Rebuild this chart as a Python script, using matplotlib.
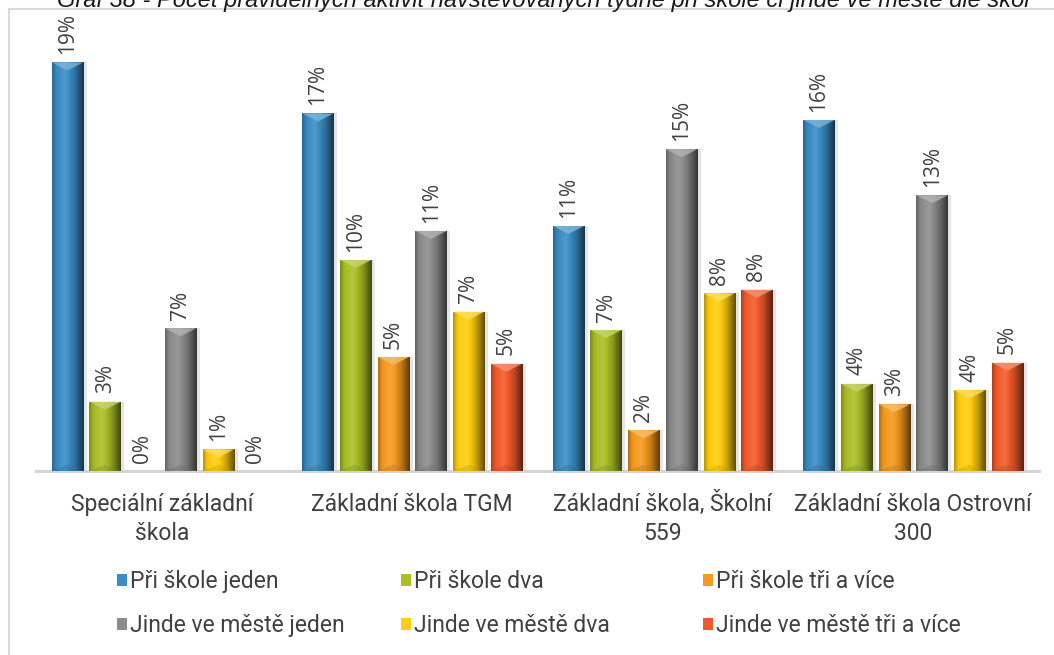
import numpy as np
import matplotlib
matplotlib.use('Agg')
import matplotlib.pyplot as plt
import matplotlib.transforms as mtransforms
from matplotlib.patches import Rectangle, Polygon
from matplotlib.colors import to_rgb

# Chart data (percent)
categories = ['Speciální základní\nškola', 'Základní škola TGM',
              'Základní škola, Školní\n559', 'Základní škola Ostrovní\n300']
series = ['Při škole jeden', 'Při škole dva', 'Při škole tři a více',
          'Jinde ve městě jeden', 'Jinde ve městě dva', 'Jinde ve městě tři a více']
pri_skole_jeden = [18.97, 16.6, 11.38, 16.3]
pri_skole_dva = [3.22, 9.8, 6.55, 4.05]
pri_skole_tri = [0.0, 5.3, 1.9, 3.1]
jinde_jeden = [6.63, 11.15, 14.94, 12.8]
jinde_dva = [1.0, 7.4, 8.25, 3.75]
jinde_tri = [0.0, 4.98, 8.42, 5.03]
values = [pri_skole_jeden, pri_skole_dva, pri_skole_tri, jinde_jeden, jinde_dva, jinde_tri]
colors = ['#3A8DC5', '#A9BF26', '#F59A1F', '#8C8C8C', '#FFCD0F', '#F25A2A']

title = 'Graf 38 - Počet pravidelných aktivit navštěvovaných týdně při škole či jinde ve městě dle škol'

txt_font = 'Roboto'
txt_color = '#404040'


def shade(c, f):
    c = np.array(to_rgb(c))
    if f >= 1:
        return np.clip(c + (1 - c) * (f - 1), 0, 1)
    return c * f


def gradient(c, n=64):
    t = np.linspace(0, 1, n)
    kp = [0.0, 0.12, 0.4, 0.72, 1.0]
    fv = [0.72, 0.95, 1.12, 0.8, 0.38]
    f = np.interp(t, kp, fv)
    rgb = np.array([shade(c, v) for v in f])
    return np.concatenate([rgb, np.ones((n, 1))], axis=1)[None, :, :]


fig = plt.figure(figsize=(10.54, 6.55), dpi=100)
ax = fig.add_axes([0.0346, 0.2809, 0.9507, 0.6577])

x = np.arange(len(categories))
width = 0.1257
step = 0.1505
px_per_unit = 21.54
bevel = 8 / px_per_unit

for i, (vals, col) in enumerate(zip(values, colors)):
    xpos = x + (i - 2.5) * step
    # soft shadow
    ax.bar(xpos + 0.014, vals, width, color='#000000', alpha=0.10, zorder=1, linewidth=0)
    bars = ax.bar(xpos, vals, width, color=col, zorder=2, linewidth=0, label=series[i])
    for b, v in zip(bars, vals):
        if v <= 0:
            continue
        x0, x1 = b.get_x(), b.get_x() + b.get_width()
        im = ax.imshow(gradient(col), extent=(x0, x1, 0, v), aspect='auto',
                       zorder=3, interpolation='bilinear')
        im.set_clip_path(b)
        xc = (x0 + x1) / 2
        bv = min(bevel, v / 2)
        ax.add_patch(Polygon([(x0, v), (x1, v), (xc, v - bv)], closed=True,
                             facecolor=shade(col, 1.35), edgecolor='none', alpha=0.8, zorder=4))
        ax.add_patch(Polygon([(x0, 0), (x1, 0), (xc, bv * 0.8)], closed=True,
                             facecolor=shade(col, 0.75), edgecolor='none', alpha=0.35, zorder=4))
    for xp, v in zip(xpos, vals):
        ax.annotate(f'{round(v)}%', (xp, v), xytext=(0, 6), textcoords='offset points',
                    rotation=90, ha='center', va='bottom', fontsize=15,
                    color=txt_color, family='Open Sans', zorder=5)

ax.set_xlim(-0.5, len(categories) - 0.5)
ax.set_ylim(0, 20)
ax.set_xticks(x)
ax.set_xticklabels([])
ax.tick_params(axis='x', length=0)
ax.set_yticks([])
for s in ['top', 'right', 'left']:
    ax.spines[s].set_visible(False)
ax.spines['bottom'].set_color('#d4d4d4')
ax.spines['bottom'].set_linewidth(2.2)
ax.set_facecolor('none')

# category labels, one text per line so all first lines share a baseline
trans = mtransforms.blended_transform_factory(ax.transData, fig.transFigure)
line_base = [511, 540]
for xi, cat in zip(x, categories):
    for j, line in enumerate(cat.split('\n')):
        ax.text(xi, 1 - line_base[j] / 655, line, transform=trans, ha='center',
                va='baseline', fontsize=16.5, color=txt_color, family=txt_font, clip_on=False)

# legend: three columns placed like the reference (one legend per column)
h, l = ax.get_legend_handles_labels()
text_left = [130, 414, 716]
for c in range(3):
    idx = [c, c + 3]
    fig.legend([h[k] for k in idx], [l[k] for k in idx], ncol=1,
               loc='upper left', bbox_to_anchor=((text_left[c] - 13) / 1054, 1 - 570 / 655),
               frameon=False, borderpad=0, borderaxespad=0,
               prop={'family': txt_font, 'size': 16.5}, labelcolor=txt_color,
               handlelength=0.42, handleheight=0.42, handletextpad=0.15,
               labelspacing=0.92, bbox_transform=fig.transFigure)

# outer frame and clipped title
fig.add_artist(Rectangle((9 / 1054, -0.1), 1.2, 1.1 - 9.5 / 655, transform=fig.transFigure,
                         facecolor='none', edgecolor='#d9d9d9', linewidth=1.5, zorder=0))
fig.text(57 / 1054, 1 - 7 / 655, title, ha='left', va='baseline', fontsize=17,
         style='italic', color='#1a1a1a', family='Liberation Sans')

fig.savefig('out.png', dpi=100)
